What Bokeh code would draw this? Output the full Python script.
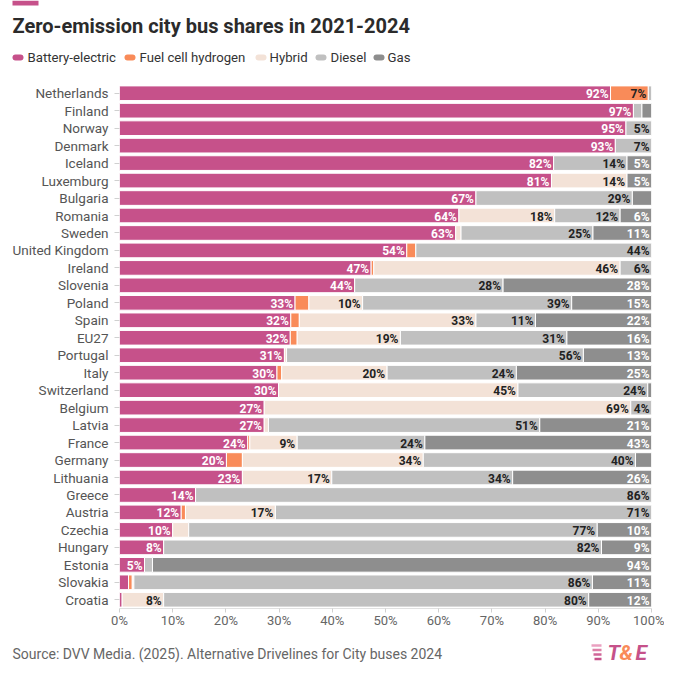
from bokeh.plotting import figure
from bokeh.layouts import column
from bokeh.models import ColumnDataSource, FactorRange, FixedTicker
from bokeh.core.properties import value
from bokeh.embed import file_html
from bokeh.resources import INLINE

countries = ["Netherlands", "Finland", "Norway", "Denmark", "Iceland", "Luxemburg", "Bulgaria",
             "Romania", "Sweden", "United Kingdom", "Ireland", "Slovenia", "Poland", "Spain", "EU27",
             "Portugal", "Italy", "Switzerland", "Belgium", "Latvia", "France", "Germany", "Lithuania",
             "Greece", "Austria", "Czechia", "Hungary", "Estonia", "Slovakia", "Croatia"]
bev =    [92.3, 96.6, 95.2, 93.2, 81.6, 81.2, 67.0, 63.8, 63.2, 54.0, 47.3, 44.2, 33.0, 32.2, 32.1,
          31.0, 29.6, 29.9, 27.2, 27.2, 24.1, 20.1, 23.1, 14.3, 11.6, 10.0, 8.3, 4.7, 1.7, 0.5]
fch =    [7.1, 0, 0, 0, 0, 0, 0, 0, 0, 1.7, 0.5, 0, 2.6, 1.6, 1.3,
          0, 0.9, 0, 0, 0, 0.4, 3.0, 0, 0, 0.8, 0, 0, 0, 0.7, 0]
hybrid = [0, 0, 0, 0, 0, 14.2, 0, 18.0, 1.0, 0, 46.3, 0, 10.1, 33.2, 19.4,
          0.4, 19.8, 45.0, 68.9, 0.8, 8.9, 34.0, 16.8, 0, 16.9, 3.0, 0, 0, 0.3, 7.8]
diesel = [0.6, 1.6, 4.8, 6.8, 13.8, 0, 29.4, 12.3, 24.8, 44.3, 5.9, 27.9, 39.3, 11.2, 31.3,
          55.8, 24.3, 24.4, 3.9, 51.0, 24.0, 39.9, 34.0, 85.7, 70.7, 76.8, 82.3, 1.5, 86.2, 79.9]
gas =    [0, 1.8, 0, 0, 4.6, 4.6, 3.6, 5.9, 11.0, 0, 0, 27.9, 15.0, 21.8, 15.9,
          12.8, 25.4, 0.7, 0, 21.0, 42.6, 3.0, 26.1, 0, 0, 10.2, 9.4, 93.8, 11.1, 11.8]
series_names = ["Battery-electric", "Fuel cell hydrogen", "Hybrid", "Diesel", "Gas"]
x_ticks = [0, 10, 20, 30, 40, 50, 60, 70, 80, 90, 100]
title_text = "Zero-emission city bus shares in 2021-2024"
source_text = "Source: DVV Media. (2025). Alternative Drivelines for City buses 2024"
logo_parts = ["T", "&", "E"]

colors = ["#c6518a", "#f98b59", "#f3e2d7", "#c0c0c0", "#8e8e8e"]
label_colors = ["#ffffff", "#222222", "#222222", "#222222", "#ffffff"]
FONT = "Roboto"
W = 664
HEAD_H = 70
MAIN_H = 560
FOOT_H = 34


def blank(h):
    f = figure(width=W, height=h, x_range=(0, W), y_range=(h, 0), output_backend="svg",
               toolbar_location=None, x_axis_location=None, y_axis_location=None,
               min_border=0, min_border_left=0, min_border_right=0, min_border_top=0,
               min_border_bottom=0, frame_align=False)
    f.outline_line_color = None
    f.xgrid.grid_line_color = None
    f.ygrid.grid_line_color = None
    return f


# ---------------- header: accent bar, title, legend ----------------
head = blank(HEAD_H)
head.quad(left=[12], right=[38], top=[0], bottom=[5], fill_color=colors[0], line_color=None)
head.text(x=[12], y=[25], text=[title_text], text_font=value(FONT), text_font_style="bold",
          text_font_size="20px", text_color="#2b2b2b", text_baseline="middle")
sw_left = [12, 124, 255, 315, 373]
txt_left = [27, 139, 269, 330, 387]
head.segment(x0=[s + 3 for s in sw_left], x1=[s + 8 for s in sw_left], y0=[57] * 5, y1=[57] * 5,
             line_color=colors, line_width=6, line_cap="round")
head.text(x=txt_left, y=[57] * 5, text=series_names, text_font=value(FONT), text_font_size="13.2px",
          text_color="#333333", text_baseline="middle")

# ---------------- main chart ----------------
p = figure(width=W, height=MAIN_H, y_range=FactorRange(*reversed(countries)), x_range=(0, 100),
           output_backend="svg", toolbar_location=None, frame_align=False,
           min_border_left=119, min_border_right=13, min_border_top=14, min_border_bottom=22)
p.outline_line_color = None
p.xgrid.grid_line_color = None
p.ygrid.grid_line_color = None

series = [bev, fch, hybrid, diesel, gas]
cum = [0.0] * len(countries)
lab = {"x": [], "y": [], "t": [], "c": []}
for k, vals in enumerate(series):
    ys, ls, rs = [], [], []
    for i, v in enumerate(vals):
        left = cum[i]
        right = left + v
        cum[i] = right
        if v > 0:
            ys.append(countries[i]); ls.append(left); rs.append(right)
        if v >= 3.8:
            lab["x"].append(right); lab["y"].append(countries[i])
            lab["t"].append(f"{int(v + 0.5)}%"); lab["c"].append(label_colors[k])
    src = ColumnDataSource(dict(y=ys, left=ls, right=rs))
    p.hbar(y="y", left="left", right="right", height=0.84, source=src,
           fill_color=colors[k], line_color="white", line_width=1)

p.text(x="x", y="y", text="t", text_color="c", source=ColumnDataSource(lab),
       text_align="right", text_baseline="middle", x_offset=-2, y_offset=1,
       text_font=value(FONT), text_font_style="bold", text_font_size="12px")

p.xaxis.ticker = FixedTicker(ticks=x_ticks)
p.xaxis.major_label_overrides = {t: f"{t}%" for t in x_ticks}
p.xaxis.axis_line_color = "#e0e0e0"
p.xaxis.major_tick_line_color = "#d0d0d0"
p.xaxis.major_tick_out = 4
p.xaxis.major_tick_in = 0
p.xaxis.minor_tick_line_color = None
p.xaxis.major_label_standoff = 0
p.xaxis.major_label_text_color = "#666666"
p.xaxis.major_label_text_font = FONT
p.xaxis.major_label_text_font_size = "13px"

p.yaxis.axis_line_color = None
p.yaxis.major_tick_line_color = "#d0d0d0"
p.yaxis.major_tick_out = 5
p.yaxis.major_tick_in = 0
p.yaxis.major_label_standoff = 6
p.yaxis.major_label_text_color = "#555555"
p.yaxis.major_label_text_font = FONT
p.yaxis.major_label_text_font_size = "13.5px"

# ---------------- footer: source and logo ----------------
foot = blank(FOOT_H)
foot.text(x=[12], y=[23], text=[source_text], text_font=value(FONT), text_font_size="14px",
          text_color="#666666", text_baseline="middle")
stripe_cols = ["#eaa0c0", "#dd80a8", "#d06698", "#c6518a"]
stripe_y = [15, 19.5, 24, 28.5]
foot.segment(x0=[591, 592, 593, 594], x1=[601, 601, 601, 601], y0=stripe_y, y1=stripe_y,
             line_color=stripe_cols, line_width=2.5)
foot.text(x=[607, 619, 635], y=[22, 22, 22], text=logo_parts,
          text_color=[colors[0], colors[1], colors[0]], text_font=value(FONT),
          text_font_style="bold italic", text_font_size="21px", text_baseline="middle")

layout = column(head, p, foot, spacing=0)
open("out.html", "w").write(file_html(layout, INLINE))
